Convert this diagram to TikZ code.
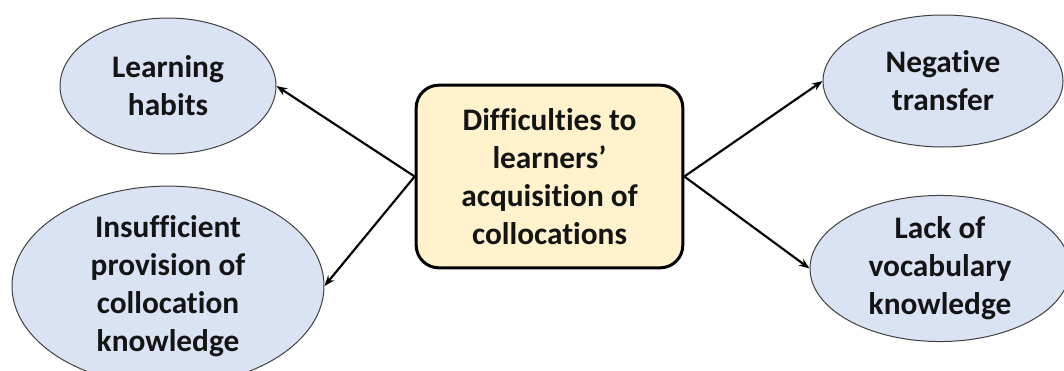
\documentclass[tikz,border=0pt]{standalone}
\usepackage{fontspec}
\setmainfont{Carlito}[Ligatures={NoCommon}]
\usetikzlibrary{shapes.geometric,arrows.meta}
\definecolor{ellfill}{HTML}{DAE3F3}
\definecolor{ellline}{HTML}{404040}
\definecolor{boxfill}{HTML}{FFF2CC}
\definecolor{txtcol}{HTML}{141414}
\tikzset{
  txt/.style={font=\fontsize{23.5pt}{28.5pt}\selectfont\bfseries, align=center, text=txtcol},
  oval/.style={txt, ellipse, draw=ellline, line width=0.75pt, fill=ellfill, inner sep=0pt},
  mainbox/.style={txt, rectangle, rounded corners=17pt, draw=black, line width=2.25pt, fill=boxfill, inner sep=0pt,
    minimum width=200pt, minimum height=137pt},
  conn/.style={line width=1.6pt, -{Stealth[length=8pt,width=6pt]}}
}
\begin{document}
\begin{tikzpicture}[x=0.75pt,y=-0.75pt]
\useasboundingbox (0,0) rectangle (1064,371);
\node[mainbox] (box) at (549.5,176.5) {Difficulties to\\learners’\\acquisition of\\collocations};
\node[oval, minimum width=162pt, minimum height=102pt] (lh) at (168,86) {Learning\\habits};
\node[oval, minimum width=234pt, minimum height=132pt] (ins) at (168,286) {Insufficient\\provision of\\collocation\\knowledge};
\node[oval, minimum width=180pt, minimum height=99pt] (neg) at (943,81) {Negative\\transfer};
\node[oval, minimum width=195pt, minimum height=107pt] (lack) at (940,268.5) {Lack of\\vocabulary\\knowledge};
\draw[conn] (box.west) -- (lh.east);
\draw[conn] (box.west) -- (ins.east);
\draw[conn] (box.east) -- (neg.west);
\draw[conn] (box.east) -- (lack.west);
\end{tikzpicture}
\end{document}
